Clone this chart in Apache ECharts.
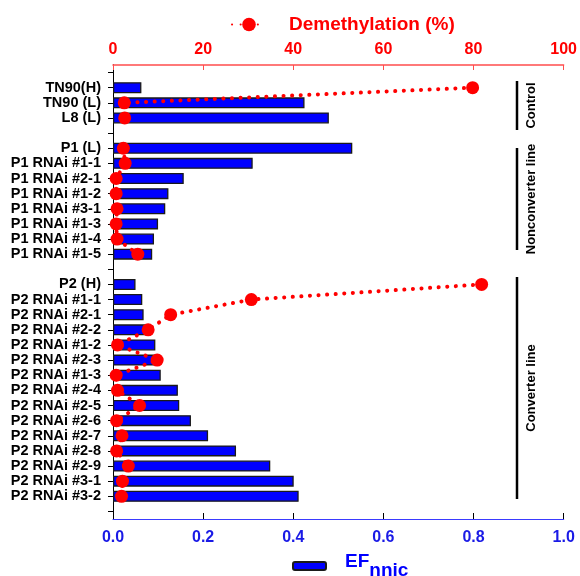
<!DOCTYPE html>
<html>
<head>
<meta charset="utf-8">
<title>EF nnic / Demethylation</title>
<script src="https://cdn.jsdelivr.net/npm/echarts@6/dist/echarts.min.js"></script>
<style>
  html, body { margin: 0; padding: 0; background: #fff; }
  #chart { width: 580px; height: 576px; }
</style>
</head>
<body>
<div id="chart"></div>
<script>
// 行名称（空白行用不同数量的空格占位）
const lines = [
  ' ', 'TN90(H)', 'TN90 (L)', 'L8 (L)', '  ',
  'P1 (L)', 'P1 RNAi #1-1', 'P1 RNAi #2-1', 'P1 RNAi #1-2', 'P1 RNAi #3-1',
  'P1 RNAi #1-3', 'P1 RNAi #1-4', 'P1 RNAi #1-5', '   ',
  'P2 (H)', 'P2 RNAi #1-1', 'P2 RNAi #2-1', 'P2 RNAi #2-2', 'P2 RNAi #1-2',
  'P2 RNAi #2-3', 'P2 RNAi #1-3', 'P2 RNAi #2-4', 'P2 RNAi #2-5', 'P2 RNAi #2-6',
  'P2 RNAi #2-7', 'P2 RNAi #2-8', 'P2 RNAi #2-9', 'P2 RNAi #3-1', 'P2 RNAi #3-2', '    '
];

// EF nnic（柱）
const efNnic = [
  null, 0.063, 0.425, 0.479, null,
  0.531, 0.31, 0.157, 0.123, 0.116, 0.100, 0.091, 0.087, null,
  0.050, 0.065, 0.068, 0.078, 0.094, 0.100, 0.106, 0.144, 0.147, 0.173,
  0.211, 0.273, 0.349, 0.401, 0.412, null
];

// 去甲基化比例 %（点线）
const demethylation = [
  null, 79.8, 2.5, 2.6, null,
  2.3, 2.7, 0.7, 0.7, 0.9, 0.7, 0.9, 5.5, null,
  81.8, 30.7, 12.8, 7.8, 1.0, 9.8, 0.7, 1.0, 5.9, 0.8,
  2.0, 0.8, 3.4, 2.1, 1.9, null
];

const efTicks = [0, 1, 0.2];     // min, max, interval
const pctTicks = [0, 100, 20];

// 右侧分组标注
const groups = [
  { name: 'Control', y1: 81, y2: 130 },
  { name: 'Nonconverter line', y1: 148, y2: 250 },
  { name: 'Converter line', y1: 277, y2: 499 }
];

const FONT = '"Liberation Sans", Arial, sans-serif';
const chart = echarts.init(document.getElementById('chart'));

const option = {
  backgroundColor: '#ffffff',
  animation: false,
  textStyle: { fontFamily: FONT },
  legend: [
    {
      data: ['Demethylation (%)'],
      left: 226,
      top: 10,
      itemWidth: 34,
      itemHeight: 17,
      textStyle: {
        color: '#ff0000', fontSize: 19, fontWeight: 'bold', fontFamily: FONT,
        padding: [0, 0, 0, 18]
      }
    },
    {
      data: ['EF_nnic'],
      left: 287,
      top: 547,
      itemWidth: 33,
      itemHeight: 8,
      formatter: () => '{a|EF}{b|nnic}',
      textStyle: {
        padding: [0, 0, 0, 14],
        rich: {
          a: { color: '#0000ff', fontSize: 19, fontWeight: 'bold', fontFamily: FONT, verticalAlign: 'top' },
          b: { color: '#0000ff', fontSize: 19, fontWeight: 'bold', fontFamily: FONT, verticalAlign: 'top', padding: [9, 0, 0, 0] }
        }
      }
    }
  ],
  grid: { left: 113, right: 13, top: 65, bottom: 57 },
  xAxis: [
    {
      type: 'value',
      position: 'bottom',
      min: efTicks[0], max: efTicks[1], interval: efTicks[2],
      splitLine: { show: false },
      axisLine: { show: true, lineStyle: { color: '#3a3aff', width: 1.2 } },
      axisTick: { show: true, inside: true, length: 6, lineStyle: { color: '#000' } },
      axisLabel: {
        margin: 11, color: '#1a1ae6', fontSize: 16, fontWeight: 'bold', fontFamily: FONT,
        formatter: v => v.toFixed(1)
      }
    },
    {
      type: 'value',
      position: 'top',
      min: pctTicks[0], max: pctTicks[1], interval: pctTicks[2],
      splitLine: { show: false },
      axisLine: { show: true, lineStyle: { color: '#ff4d4d', width: 1.5 } },
      axisTick: { show: true, inside: true, length: 5, lineStyle: { color: '#ff4d4d' } },
      axisLabel: { margin: 7, color: '#ff0000', fontSize: 16, fontWeight: 'bold', fontFamily: FONT }
    }
  ],
  yAxis: [
    {
      type: 'category',
      data: lines,
      inverse: true,
      axisLine: { show: true, lineStyle: { color: '#000', width: 1 } },
      axisTick: { show: true, alignWithLabel: true, interval: 0, length: 5, lineStyle: { color: '#000' } },
      axisLabel: { interval: 0, margin: 12, color: '#000', fontSize: 14.5, fontWeight: 'bold', fontFamily: FONT }
    },
    {
      type: 'category',
      data: lines,
      inverse: true,
      position: 'right',
      axisLine: { show: true, lineStyle: { color: '#000', width: 1 } },
      axisTick: { show: false },
      axisLabel: { show: false }
    }
  ],
  series: [
    {
      name: 'EF_nnic',
      type: 'bar',
      xAxisIndex: 0,
      yAxisIndex: 0,
      data: efNnic,
      barWidth: 11,
      itemStyle: { color: '#0000ff', borderColor: '#1a1a1a', borderWidth: 1.3 },
      z: 2
    },
    {
      name: 'Demethylation (%)',
      type: 'line',
      xAxisIndex: 1,
      yAxisIndex: 0,
      data: demethylation,
      connectNulls: false,
      symbol: 'circle',
      symbolSize: 13,
      itemStyle: { color: '#ff0000' },
      lineStyle: { color: '#ff0000', width: 4, type: [0.1, 8.5], cap: 'round' },
      z: 3
    }
  ],
  graphic: groups.flatMap(g => [
    {
      type: 'line',
      shape: { x1: 517, y1: g.y1, x2: 517, y2: g.y2 },
      style: { stroke: '#000', lineWidth: 2.5 }
    },
    {
      type: 'text',
      x: 531,
      y: (g.y1 + g.y2) / 2,
      rotation: Math.PI / 2,
      style: {
        text: g.name, fill: '#000', fontSize: 13, fontWeight: 'bold', fontFamily: FONT,
        align: 'center', verticalAlign: 'middle'
      }
    }
  ])
};

chart.setOption(option);
</script>
</body>
</html>
